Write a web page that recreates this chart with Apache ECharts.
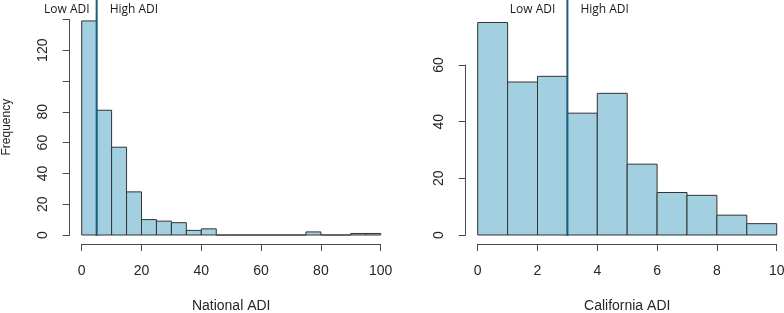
<!DOCTYPE html>
<html>
<head>
<meta charset="utf-8">
<script src="https://cdn.jsdelivr.net/npm/echarts@6/dist/echarts.min.js"></script>
<style>
  html, body { margin: 0; padding: 0; background: #fff; }
  #chart { width: 784px; height: 313px; }
</style>
</head>
<body>
<div id="chart"></div>
<script>
// 数据
var natEdges = [0, 5, 10, 15, 20, 25, 30, 35, 40, 45, 50, 55, 60, 65, 70, 75, 80, 85, 90, 95, 100];
var natCounts = [139, 81, 57, 28, 10, 9, 8, 3, 4, 0, 0, 0, 0, 0, 0, 2, 0, 0, 1, 1];
var natXTicks = [0, 20, 40, 60, 80, 100];
var natYTicks = [0, 20, 40, 60, 80, 100, 120, 140];
var natYHidden = [100, 140];
var natCut = 5;

var caEdges = [0, 1, 2, 3, 4, 5, 6, 7, 8, 9, 10];
var caCounts = [75, 54, 56, 43, 50, 25, 15, 14, 7, 4];
var caXTicks = [0, 2, 4, 6, 8, 10];
var caYTicks = [0, 20, 40, 60];
var caCut = 3;

var cutLabels = ['Low ADI', 'High ADI'];
var yTitle = 'Frequency';
var natTitle = 'National ADI';
var caTitle = 'California ADI';

// 颜色
var fillColor = '#a2d0e1';
var edgeColor = '#333333';
var cutColor = '#1c5d7d';
var axisColor = '#4a4a4a';
var textColor = '#262626';

function binData(edges, counts) {
  return counts.map(function (c, i) { return [edges[i], edges[i + 1], c]; });
}

// 直方图柱子
function histSeries(xi, yi, data) {
  return {
    type: 'custom',
    xAxisIndex: xi,
    yAxisIndex: yi,
    data: data,
    silent: true,
    renderItem: function (params, api) {
      var p0 = api.coord([api.value(0), 0]);
      var p1 = api.coord([api.value(1), api.value(2)]);
      return {
        type: 'rect',
        shape: { x: p0[0], y: p1[1], width: p1[0] - p0[0], height: p0[1] - p1[1] },
        style: { fill: fillColor, stroke: edgeColor, lineWidth: 1 }
      };
    }
  };
}

// 分界线和标签
function cutSeries(xi, yi, cut, lowGap, highGap) {
  return {
    type: 'custom',
    xAxisIndex: xi,
    yAxisIndex: yi,
    data: [[cut]],
    clip: false,
    silent: true,
    z: 5,
    renderItem: function (params, api) {
      var p = api.coord([api.value(0), 0]);
      return {
        type: 'group',
        children: [
          { type: 'line', shape: { x1: p[0], y1: 0, x2: p[0], y2: p[1] + 1 },
            style: { stroke: cutColor, lineWidth: 2 } },
          { type: 'text', x: p[0] - lowGap, y: 10,
            style: { text: cutLabels[0], align: 'right', verticalAlign: 'middle',
                     font: '12px "Open Sans"', fill: '#1a1a1a' } },
          { type: 'text', x: p[0] + highGap, y: 10,
            style: { text: cutLabels[1], align: 'left', verticalAlign: 'middle',
                     font: '12px "Open Sans"', fill: '#1a1a1a' } }
        ]
      };
    }
  };
}

var labelFont = { color: textColor, fontSize: 14, fontFamily: 'Liberation Sans' };

function xAxisCfg(gi, ticks, name) {
  return {
    type: 'value', gridIndex: gi, position: 'bottom',
    min: ticks[0], max: ticks[ticks.length - 1], interval: ticks[1] - ticks[0],
    offset: 9,
    name: name, nameLocation: 'middle', nameGap: 55, nameMoveOverlap: false,
    nameTextStyle: { color: textColor, fontSize: 14, fontFamily: 'Liberation Sans' },
    axisLine: { show: true, onZero: false, lineStyle: { color: axisColor, width: 1 } },
    axisTick: { show: true, length: 7, lineStyle: { color: axisColor, width: 1 } },
    axisLabel: Object.assign({ margin: 20 }, labelFont),
    splitLine: { show: false }
  };
}

function yAxisCfg(gi, ticks, hidden, name) {
  return {
    type: 'value', gridIndex: gi, position: 'left',
    min: ticks[0], max: ticks[ticks.length - 1], interval: ticks[1] - ticks[0],
    offset: 12,
    name: name || '', nameLocation: 'middle', nameGap: 57, nameRotate: 90, nameMoveOverlap: false,
    nameTextStyle: { color: textColor, fontSize: 12, fontFamily: 'Liberation Sans' },
    axisLine: { show: true, onZero: false, lineStyle: { color: axisColor, width: 1 } },
    axisTick: { show: true, length: 7, lineStyle: { color: axisColor, width: 1 } },
    axisLabel: Object.assign({
      margin: 20, rotate: 90,
      formatter: function (v) { return hidden.indexOf(v) >= 0 ? '' : String(v); }
    }, labelFont),
    splitLine: { show: false }
  };
}

var chart = echarts.init(document.getElementById('chart'));

var option = {
  animation: false,
  backgroundColor: '#ffffff',
  grid: [
    { left: 81.7, right: 403.3, top: 19.4, bottom: 78, outerBoundsMode: 'none' },
    { left: 477.7, right: 7.3, top: 22.5, bottom: 78, outerBoundsMode: 'none' },
    { left: 477.7, right: 7.3, top: 65, bottom: 78, outerBoundsMode: 'none' }
  ],
  xAxis: [
    xAxisCfg(0, natXTicks, natTitle),
    xAxisCfg(1, caXTicks, caTitle),
    { type: 'value', gridIndex: 2, min: 0, max: 10, show: false }
  ],
  yAxis: [
    yAxisCfg(0, natYTicks, natYHidden, yTitle),
    { type: 'value', gridIndex: 1, min: 0, max: Math.max.apply(null, caCounts), show: false },
    yAxisCfg(2, caYTicks, [])
  ],
  series: [
    histSeries(0, 0, binData(natEdges, natCounts)),
    cutSeries(0, 0, natCut, 7, 13),
    histSeries(1, 1, binData(caEdges, caCounts)),
    cutSeries(1, 1, caCut, 12, 13)
  ]
};

chart.setOption(option);
</script>
</body>
</html>
